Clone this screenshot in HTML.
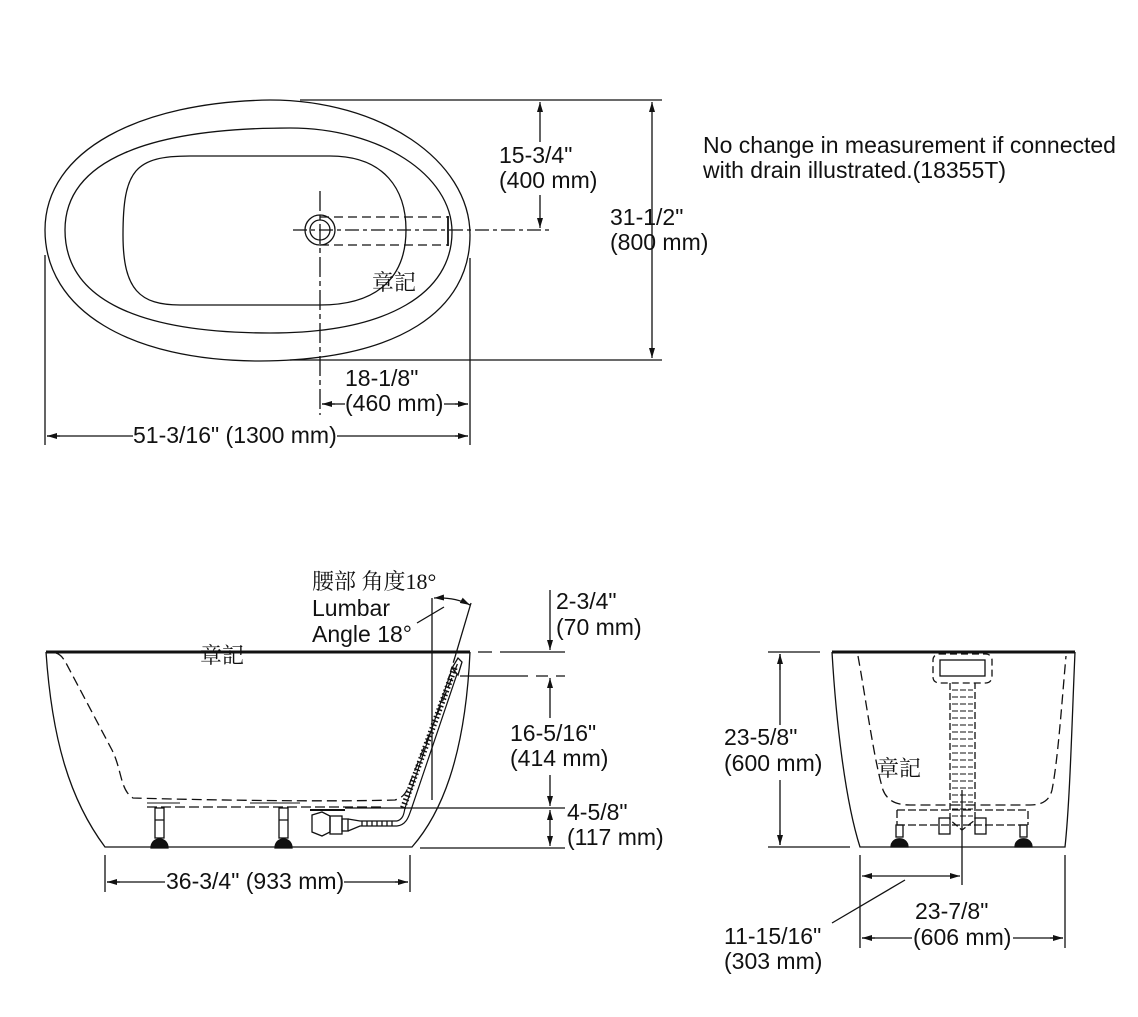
<!DOCTYPE html>
<html><head><meta charset="utf-8"><style>
html,body{margin:0;padding:0;background:#fff}
svg{display:block}
text{font-family:"Liberation Sans",Arial,sans-serif;font-size:23px;fill:#111}
.cj{font-family:"Liberation Serif","Noto Serif CJK SC","Noto Sans CJK TC",serif;font-size:22px}
</style></head><body>
<svg width="1138" height="1017" viewBox="0 0 1138 1017" xmlns="http://www.w3.org/2000/svg">
<defs>
<marker id="a" viewBox="0 0 10 6" refX="10" refY="3" markerWidth="10" markerHeight="6" orient="auto-start-reverse" markerUnits="userSpaceOnUse"><path d="M0,0 L10,3 L0,6 z" fill="#111"/></marker>
</defs>
<g fill="none" stroke="#111" stroke-width="1.3">
<!-- TOP VIEW -->
<path d="M45,230 C45,150 140,102 270,100 C380,100 470,160 470,235 C470,310 400,360 260,361 C130,361 45,310 45,230 Z"/>
<path d="M65,230 C65,160 150,128 290,128 C380,128 452,175 452,232 C452,292 390,333 270,333 C140,333 65,300 65,230 Z"/>
<path d="M123,235 C123,170 135,156 190,156 L330,156 C385,156 406,190 406,230 C406,275 380,305 320,305 L180,305 C140,305 123,290 123,235 Z"/>
<circle cx="320" cy="230" r="15"/><circle cx="320" cy="230" r="10"/>
<path d="M320,217 H448 M320,245 H448" stroke-dasharray="9,5"/>
<path d="M448,216 V246" stroke-width="1.8"/>
<path d="M293,230 H550" stroke-dasharray="14,4,4,4"/>
<path d="M320,191 V415" stroke-dasharray="20,4,5,4"/>
<path d="M300,100 H662 M290,360 H662"/>
<path d="M652,102 V358" marker-start="url(#a)" marker-end="url(#a)"/>
<path d="M540,102 V142" marker-start="url(#a)"/>
<path d="M540,195 V228" marker-end="url(#a)"/>
<path d="M45,255 V445 M470,258 V445"/>
<path d="M47,436 H133 M337,436 H468" />
<path d="M47,436 H60" marker-start="url(#a)"/><path d="M455,436 H468" marker-end="url(#a)"/>
<path d="M322,404 H345 M444,404 H468"/>
<path d="M322,404 H335" marker-start="url(#a)"/><path d="M455,404 H468" marker-end="url(#a)"/>

<!-- SIDE VIEW -->
<path d="M46,652 H470" stroke-width="3"/>
<path d="M46,652 C52,740 70,800 105,847 H412 C440,815 465,760 470,652"/>
<path d="M56,653 C62,655 64,660 66,663 L112,750 C122,770 120,790 133,798 C200,800 330,802 395,800 C402,798 405,794 407,790 L459,660" stroke-dasharray="10,5"/>
<path d="M147,807 H385" stroke-dasharray="10,4"/>
<path d="M147,803 H180 M250,803 H300" stroke-width="1"/>
<g>
<rect x="155" y="808" width="9" height="30"/><rect x="279" y="808" width="9" height="30"/>
<path d="M151,848 C151,836 168,836 168,848 Z M275,848 C275,836 292,836 292,848 Z" fill="#111"/>
<path d="M155,820 H164 M279,820 H288"/>
</g>
<path d="M312,815 L322,812 L330,816 L330,832 L322,836 L312,832 Z"/>
<rect x="330" y="816" width="12" height="18"/><rect x="342" y="819" width="6" height="12"/>
<path d="M310,810 H345" stroke-width="2"/>
<path d="M348,819 L360,821 H397 M348,831 L360,826 H397"/>
<path d="M362,821 V826 M367,821 V826 M372,821 V826 M377,821 V826 M382,821 V826 M387,821 V826 M392,821 V826"/>
<path d="M397,821 C404,819 404,812 405,808 L451,672 M397,826 C407,825 409,815 411,810 L457,674" stroke-width="1.2"/>
<path d="M403,808 L455,667" stroke="#111" stroke-width="6" stroke-dasharray="1.5,2.5" fill="none"/>
<path d="M452,668 L458,658 L462,662 L458,675 Z"/>
<path d="M432,598 V800"/>
<path d="M471,603 L455,657"/>
<path d="M455,657 L448,680" stroke-dasharray="6,4"/>
<path d="M434,598 Q455,597 470,605" marker-start="url(#a)" marker-end="url(#a)"/>
<path d="M417,623 L444,607"/>
<path d="M478,652 H492 M500,652 H565"/>
<path d="M460,676 H528 M536,676 H548 M556,676 H565"/>
<path d="M550,590 V650" marker-end="url(#a)"/>
<path d="M550,678 V718" marker-start="url(#a)"/>
<path d="M550,775 V806" marker-end="url(#a)"/>
<path d="M550,810 V846" marker-start="url(#a)" marker-end="url(#a)"/>
<path d="M345,808 H565 M420,848 H565"/>
<path d="M105,855 V892 M410,855 V892"/>
<path d="M107,882 H165 M344,882 H408"/>
<path d="M107,882 H120" marker-start="url(#a)"/><path d="M395,882 H408" marker-end="url(#a)"/>

<!-- END VIEW -->
<path d="M832,652 H1075" stroke-width="3"/>
<path d="M832,652 C836,720 845,800 860,847 H1065 C1070,800 1072,720 1075,652"/>
<path d="M858,656 C866,700 874,760 883,790 C887,800 895,805 910,805 H1030 C1045,805 1050,798 1052,790 C1058,760 1062,700 1066,656" stroke-dasharray="10,5"/>
<rect x="933" y="654" width="59" height="29" rx="6" stroke-dasharray="7,4"/>
<rect x="940" y="660" width="45" height="16"/>
<path d="M950,683 V820 L962,830 L975,820 V683" stroke-dasharray="7,3"/>
<path d="M952,690 H973 M952,697 H973 M952,704 H973 M952,711 H973 M952,718 H973 M952,725 H973 M952,732 H973 M952,739 H973 M952,746 H973 M952,753 H973 M952,760 H973 M952,767 H973 M952,774 H973 M952,781 H973 M952,788 H973 M952,795 H973 M952,802 H973 M952,809 H973 M952,816 H973" stroke-dasharray="6,2" stroke-width="1"/>
<path d="M897,810 H1028 V825 M897,810 V825 M897,825 H1028" stroke-dasharray="8,3"/>
<rect x="939" y="818" width="11" height="16"/><rect x="975" y="818" width="11" height="16"/>
<rect x="896" y="825" width="7" height="12"/><rect x="1020" y="825" width="7" height="12"/>
<path d="M891,847 C891,836 908,836 908,847 Z M1015,847 C1015,836 1032,836 1032,847 Z" fill="#111"/>
<path d="M962,790 V885"/>
<path d="M768,652 H820 M768,847 H850"/>
<path d="M780,654 V725 M780,780 V845" />
<path d="M780,654 V670" marker-start="url(#a)"/><path d="M780,830 V845" marker-end="url(#a)"/>
<path d="M860,855 V948 M1065,855 V948"/>
<path d="M862,876 H960" marker-start="url(#a)" marker-end="url(#a)"/>
<path d="M862,938 H912 M1013,938 H1063"/>
<path d="M862,938 H875" marker-start="url(#a)"/><path d="M1050,938 H1063" marker-end="url(#a)"/>
<path d="M832,923 L905,880"/>
</g>

<text x="499" y="163">15-3/4"</text>
<text x="499" y="188">(400 mm)</text>
<text x="610" y="225">31-1/2"</text>
<text x="610" y="250">(800 mm)</text>
<text x="703" y="153">No change in measurement if connected</text>
<text x="703" y="178">with drain illustrated.(18355T)</text>
<text x="372" y="290" class="cj">章記</text>
<text x="345" y="386">18-1/8"</text>
<text x="345" y="411">(460 mm)</text>
<text x="133" y="443">51-3/16" (1300 mm)</text>

<text x="312" y="589" class="cj">腰部 角度18°</text>
<text x="312" y="616">Lumbar</text>
<text x="312" y="642">Angle 18°</text>
<text x="200" y="663" class="cj">章記</text>
<text x="556" y="609">2-3/4"</text>
<text x="556" y="635">(70 mm)</text>
<text x="510" y="741">16-5/16"</text>
<text x="510" y="766">(414 mm)</text>
<text x="567" y="820">4-5/8"</text>
<text x="567" y="845">(117 mm)</text>
<text x="166" y="889">36-3/4" (933 mm)</text>

<text x="724" y="745">23-5/8"</text>
<text x="724" y="771">(600 mm)</text>
<text x="877" y="776" class="cj">章記</text>
<text x="915" y="919">23-7/8"</text>
<text x="913" y="945">(606 mm)</text>
<text x="724" y="944">11-15/16"</text>
<text x="724" y="969">(303 mm)</text>
</svg>
</body></html>
